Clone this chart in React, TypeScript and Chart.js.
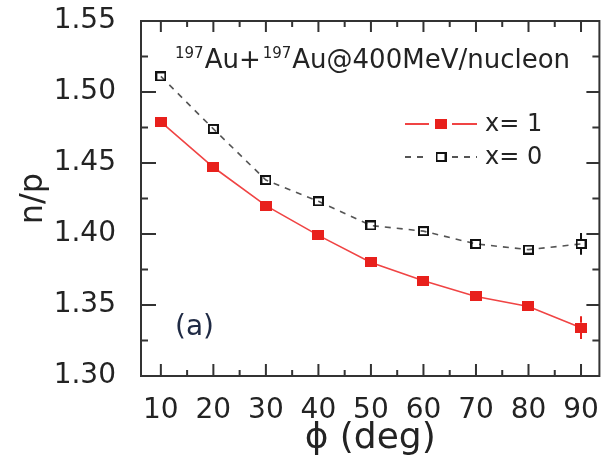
import { useEffect, useRef } from "react";
import { Chart, registerables } from "chart.js";

Chart.register(...registerables);

// Azimuthal angle (deg) and n/p ratio for the two stiffness settings
const angles = [10, 20, 30, 40, 50, 60, 70, 80, 90];
const ratioX1 = [1.479, 1.447, 1.42, 1.399, 1.38, 1.367, 1.356, 1.349, 1.334];
const errorX1 = [0.002, 0.002, 0.002, 0.002, 0.002, 0.002, 0.002, 0.003, 0.008];
const ratioX0 = [1.511, 1.474, 1.438, 1.423, 1.406, 1.402, 1.393, 1.389, 1.393];
const errorX0 = [0.002, 0.002, 0.002, 0.002, 0.002, 0.002, 0.002, 0.002, 0.0077];

const xTickValues = [10, 20, 30, 40, 50, 60, 70, 80, 90];
const yTickValues = [1.3, 1.35, 1.4, 1.45, 1.5, 1.55];

const seriesLabels = ["x= 1", "x= 0"];
const reactionParts = [
  { text: "197", sup: true },
  { text: "Au+", sup: false },
  { text: "197", sup: true },
  { text: "Au@400MeV/nucleon", sup: false },
];
const panelTag = "(a)";

const FONT = "'DejaVu Sans', 'Liberation Sans', sans-serif";
const INK = "#232323";
const RED = "#e8201c";
const RED_LINE = "#f04444";
const GREY_LINE = "#555555";

function makeMarker(w: number, h: number, fill: string | null, stroke: string | null, lw: number) {
  const c = document.createElement("canvas");
  c.width = w;
  c.height = h;
  const g = c.getContext("2d")!;
  if (fill) {
    g.fillStyle = fill;
    g.fillRect(0, 0, w, h);
  }
  if (stroke) {
    g.strokeStyle = stroke;
    g.lineWidth = lw;
    g.strokeRect(lw / 2, lw / 2, w - lw, h - lw);
  }
  return c;
}

export default function App() {
  const ref = useRef<HTMLCanvasElement | null>(null);

  useEffect(() => {
    const canvas = ref.current;
    if (!canvas) return;

    const filledMarker = makeMarker(12, 10, RED, null, 0);
    const openMarker = makeMarker(11, 10, null, "#111", 2);
    const markers = [filledMarker, openMarker];
    const errors = [errorX1, errorX0];
    const errColors = [RED, "#111"];

    // Boxed frame with inward major/minor ticks on all four sides
    const framePlugin = {
      id: "frame",
      afterDatasetsDraw(chart: any) {
        const { ctx, chartArea: a, scales } = chart;
        const xs = scales.x;
        const ys = scales.y;
        ctx.save();
        ctx.strokeStyle = "#333";
        ctx.lineWidth = 2;
        ctx.strokeRect(a.left, a.top, a.right - a.left, a.bottom - a.top);
        ctx.beginPath();
        const xMinor: number[] = [];
        for (let i = 0; i < xTickValues.length - 1; i++) xMinor.push((xTickValues[i] + xTickValues[i + 1]) / 2);
        xTickValues.forEach((v) => {
          const p = xs.getPixelForValue(v);
          ctx.moveTo(p, a.bottom);
          ctx.lineTo(p, a.bottom - 12);
          ctx.moveTo(p, a.top);
          ctx.lineTo(p, a.top + 11);
        });
        xMinor.forEach((v) => {
          const p = xs.getPixelForValue(v);
          ctx.moveTo(p, a.bottom);
          ctx.lineTo(p, a.bottom - 6);
          ctx.moveTo(p, a.top);
          ctx.lineTo(p, a.top + 6);
        });
        const yMinor: number[] = [];
        for (let i = 0; i < yTickValues.length - 1; i++) yMinor.push((yTickValues[i] + yTickValues[i + 1]) / 2);
        yTickValues.forEach((v) => {
          const p = ys.getPixelForValue(v);
          ctx.moveTo(a.left, p);
          ctx.lineTo(a.left + 15, p);
          ctx.moveTo(a.right, p);
          ctx.lineTo(a.right - 13, p);
        });
        yMinor.forEach((v) => {
          const p = ys.getPixelForValue(v);
          ctx.moveTo(a.left, p);
          ctx.lineTo(a.left + 7, p);
          ctx.moveTo(a.right, p);
          ctx.lineTo(a.right - 7, p);
        });
        ctx.stroke();
        ctx.restore();
      },
    };

    // Vertical error bars, drawn above and below each marker
    const errorPlugin = {
      id: "errorBars",
      afterDatasetsDraw(chart: any) {
        const { ctx, scales } = chart;
        ctx.save();
        ctx.lineWidth = 2;
        chart.data.datasets.forEach((ds: any, di: number) => {
          const half = markers[di].height / 2;
          ctx.strokeStyle = errColors[di];
          ds.data.forEach((pt: any, i: number) => {
            const e = errors[di][i];
            const px = scales.x.getPixelForValue(pt.x);
            const py = scales.y.getPixelForValue(pt.y);
            const hi = scales.y.getPixelForValue(pt.y + e);
            const lo = scales.y.getPixelForValue(pt.y - e);
            ctx.beginPath();
            if (py - hi > half) {
              ctx.moveTo(px, hi);
              ctx.lineTo(px, py - half);
            }
            if (lo - py > half) {
              ctx.moveTo(px, py + half);
              ctx.lineTo(px, lo);
            }
            ctx.stroke();
          });
        });
        ctx.restore();
      },
    };

    // Legend, reaction label and panel tag
    const notesPlugin = {
      id: "notes",
      afterDraw(chart: any) {
        const { ctx, chartArea: a } = chart;
        ctx.save();
        ctx.fillStyle = INK;
        ctx.textBaseline = "alphabetic";
        // reaction label with superscript mass numbers
        let x = a.left + 34;
        reactionParts.forEach((part) => {
          ctx.font = part.sup ? `15px ${FONT}` : `26px ${FONT}`;
          const y = part.sup ? a.top + 37 : a.top + 47;
          ctx.fillText(part.text, x, y);
          x += ctx.measureText(part.text).width + (part.sup ? 1 : 2);
        });

        // legend rows
        const rows = [a.top + 103, a.top + 136];
        chart.data.datasets.forEach((ds: any, i: number) => {
          const y = rows[i];
          ctx.save();
          ctx.strokeStyle = ds.borderColor;
          ctx.lineWidth = 2;
          ctx.setLineDash(ds.borderDash || []);
          ctx.beginPath();
          ctx.moveTo(a.left + 264, y);
          ctx.lineTo(a.left + 288, y);
          ctx.moveTo(a.left + 311, y);
          ctx.lineTo(a.left + 336, y);
          ctx.stroke();
          ctx.restore();
          const m = markers[i];
          ctx.drawImage(m, a.left + 300 - m.width / 2, y - m.height / 2);
          ctx.font = `24px ${FONT}`;
          ctx.textBaseline = "middle";
          ctx.fillText(seriesLabels[i], a.left + 344, y + 1);
        });

        ctx.font = `28px ${FONT}`;
        ctx.textBaseline = "middle";
        ctx.fillStyle = "#1f2a44";
        ctx.fillText(panelTag, a.left + 34, a.top + 307);
        ctx.restore();
      },
    };

    const chart = new Chart(canvas, {
      type: "line",
      data: {
        datasets: [
          {
            label: seriesLabels[0],
            data: angles.map((a, i) => ({ x: a, y: ratioX1[i] })),
            borderColor: RED_LINE,
            borderWidth: 1.6,
            pointStyle: filledMarker,
            pointRadius: 6,
            tension: 0,
          },
          {
            label: seriesLabels[1],
            data: angles.map((a, i) => ({ x: a, y: ratioX0[i] })),
            borderColor: GREY_LINE,
            borderWidth: 1.6,
            borderDash: [6, 6],
            pointStyle: openMarker,
            pointRadius: 6,
            tension: 0,
          },
        ],
      },
      options: {
        responsive: false,
        animation: false,
        devicePixelRatio: 1,
        layout: { padding: { left: 0, right: 4, top: 21, bottom: 0 } },
        plugins: { legend: { display: false }, tooltip: { enabled: false } },
        scales: {
          x: {
            type: "linear",
            min: 6.22,
            max: 93.5,
            grid: { display: false },
            border: { display: false },
            afterBuildTicks: (s: any) => {
              s.ticks = xTickValues.map((v) => ({ value: v }));
            },
            afterFit: (s: any) => {
              s.height = 82;
              s.paddingLeft = 0;
              s.paddingRight = 0;
            },
            ticks: {
              font: { family: FONT, size: 28 },
              color: INK,
              padding: 10,
              maxRotation: 0,
              autoSkip: false,
              callback: (v: any) => String(v),
            },
            title: {
              display: true,
              text: "ϕ (deg)",
              color: INK,
              font: { family: FONT, size: 36, lineHeight: 1 },
              padding: { top: 0, bottom: 1 },
            },
          },
          y: {
            type: "linear",
            min: 1.3,
            max: 1.55,
            grid: { display: false },
            border: { display: false },
            afterBuildTicks: (s: any) => {
              s.ticks = yTickValues.map((v) => ({ value: v }));
            },
            afterFit: (s: any) => {
              s.width = 141;
              s.paddingTop = 0;
              s.paddingBottom = 0;
            },
            ticks: {
              font: { family: FONT, size: 28 },
              color: INK,
              padding: 17,
              callback: (v: any) => Number(v).toFixed(2),
            },
            title: {
              display: true,
              text: "n/p",
              color: INK,
              font: { family: FONT, size: 32, lineHeight: 1 },
              padding: { top: 18, bottom: 0 },
            },
          },
        },
      },
      plugins: [framePlugin, errorPlugin, notesPlugin],
    } as any);

    return () => chart.destroy();
  }, []);

  return (
    <div style={{ position: "absolute", left: 0, top: 0, width: 607, height: 458, background: "#fff" }}>
      <canvas ref={ref} width={607} height={458} />
    </div>
  );
}
